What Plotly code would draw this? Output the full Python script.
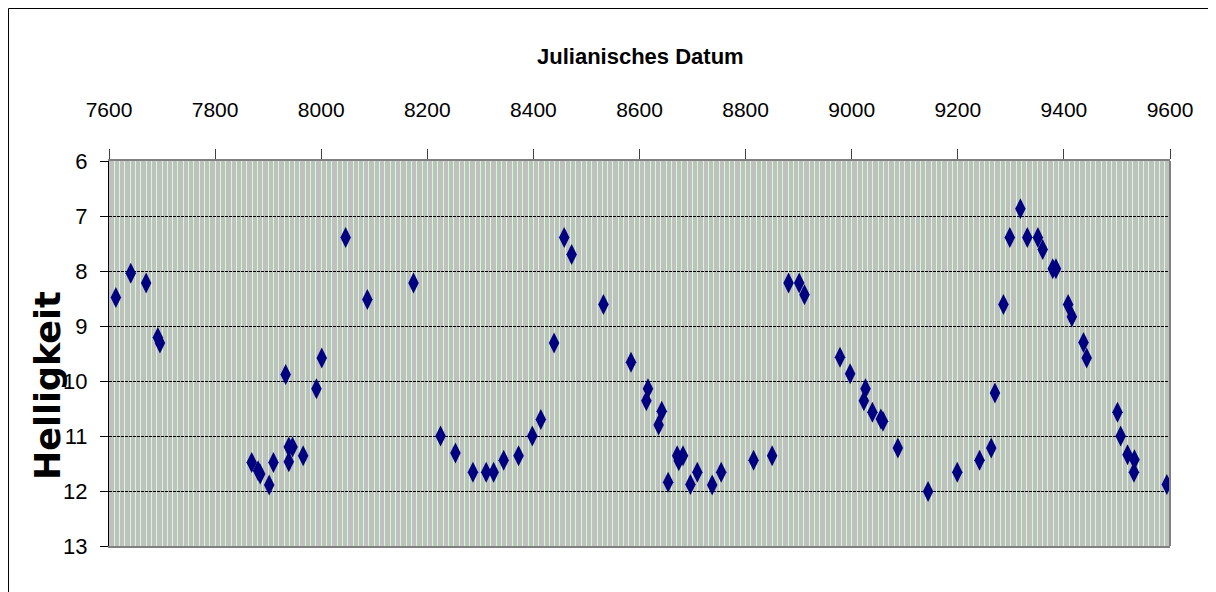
import plotly.graph_objects as go

# Julian date (offset) and brightness (magnitude)
jd = [7613, 7641, 7670, 7692, 7696, 7869, 7881, 7885, 7902, 7910,
      7933, 7939, 7939, 7946, 7966, 7991, 8001, 8046, 8087, 8174,
      8225, 8253, 8286, 8311, 8325, 8344, 8372, 8398, 8414, 8439,
      8458, 8472, 8532, 8584, 8613, 8616, 8636, 8642, 8654, 8671,
      8674, 8682, 8696, 8709, 8737, 8754, 8815, 8850, 8881, 8901,
      8911, 8978, 8997, 9023, 9026, 9039, 9055, 9059, 9087, 9144,
      9199, 9241, 9263, 9270, 9286, 9298, 9318, 9331, 9351, 9360,
      9379, 9385, 9408, 9415, 9437, 9443, 9501, 9507, 9520, 9533,
      9532, 9594]
mag = [8.48, 8.04, 8.22, 9.21, 9.31, 11.48, 11.63, 11.69, 11.89, 11.48,
       9.88, 11.20, 11.47, 11.20, 11.36, 10.14, 9.58, 7.39, 8.52, 8.22,
       11.00, 11.31, 11.66, 11.66, 11.66, 11.44, 11.36, 11.00, 10.70, 9.31,
       7.39, 7.70, 8.61, 9.66, 10.36, 10.14, 10.80, 10.55, 11.84, 11.36,
       11.45, 11.36, 11.88, 11.66, 11.89, 11.66, 11.44, 11.36, 8.22, 8.22,
       8.43, 9.57, 9.87, 10.36, 10.14, 10.57, 10.69, 10.73, 11.22, 12.01,
       11.66, 11.44, 11.22, 10.22, 8.61, 7.39, 6.87, 7.39, 7.39, 7.61,
       7.96, 7.96, 8.61, 8.83, 9.30, 9.58, 10.57, 11.00, 11.34, 11.43,
       11.66, 11.88]

x_ticks = [7600, 7800, 8000, 8200, 8400, 8600, 8800, 9000, 9200, 9400, 9600]
y_ticks = [6, 7, 8, 9, 10, 11, 12, 13]

x_title = "Julianisches Datum"
y_title = "Helligkeit"

FONT = "Liberation Sans, Arial, sans-serif"

fig = go.Figure()
fig.add_trace(go.Scatter(
    x=jd, y=mag, mode="markers",
    marker=dict(symbol="diamond-tall", size=15, color="#000080",
                line=dict(width=0)),
    showlegend=False, hoverinfo="x+y"))

fig.update_layout(
    width=1208, height=584,
    margin=dict(l=101, r=46, t=153, b=46, autoexpand=False),
    paper_bgcolor="white", plot_bgcolor="#C0C0C0",
    font=dict(family=FONT, color="black", size=21),
    xaxis=dict(
        side="top", range=[7600, 9600], tickvals=x_ticks,
        ticktext=[str(v) for v in x_ticks], automargin=False,
        showgrid=True, gridcolor="#CCFFCC", gridwidth=1,
        minor=dict(dtick=10, showgrid=True, gridcolor="#CCFFCC", gridwidth=1, ticks=""),
        showline=True, linecolor="#808080", linewidth=2, mirror=True,
        ticks="outside", ticklen=10, tickcolor="#404040", tickwidth=1,
        ticklabelstandoff=24, zeroline=False,
        tickfont=dict(family=FONT, size=21),
    ),
    yaxis=dict(
        range=[13, 6], tickvals=y_ticks, ticktext=[str(v) for v in y_ticks],
        automargin=False,
        showgrid=True, gridcolor="black", gridwidth=1, griddash="3px,1px",
        showline=True, linecolor="black", linewidth=1,
        ticks="outside", ticklen=8, tickcolor="black", tickwidth=1,
        ticklabelstandoff=8, zeroline=False,
        tickfont=dict(family=FONT, size=22),
    ),
    annotations=[
        dict(text="<b>" + x_title + "</b>", xref="paper", yref="paper",
             x=0.5005, y=1.2727, xanchor="center", yanchor="middle",
             showarrow=False, font=dict(family=FONT, size=22)),
        dict(text="<b>" + y_title + "</b>", xref="paper", yref="paper",
             x=-0.0575, y=0.418, xanchor="center", yanchor="middle",
             textangle=-90, showarrow=False,
             font=dict(family="DejaVu Sans, Liberation Sans, sans-serif", size=35)),
    ],
    shapes=[
        dict(type="line", xref="paper", yref="paper", x0=1, x1=1, y0=0, y1=1,
             line=dict(color="#808080", width=2)),
        dict(type="rect", xref="paper", yref="paper",
             x0=-0.0947, x1=1.0386, y0=-0.2, y1=1.3961,
             line=dict(color="black", width=1), fillcolor="rgba(0,0,0,0)",
             layer="above"),
    ],
)

fig.write_html("out.html")
